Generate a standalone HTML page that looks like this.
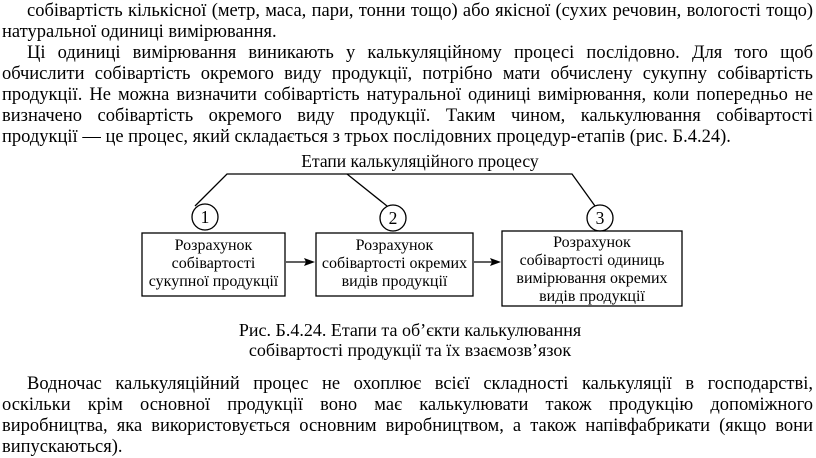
<!DOCTYPE html>
<html><head><meta charset="utf-8"><style>
body{margin:0;width:816px;height:449px;background:#fff;position:relative;overflow:hidden;font-family:"Liberation Serif",serif;color:#000}
.l{position:absolute;left:2px;width:811px;font-size:18.5px;line-height:21px;white-space:nowrap;text-align:justify;text-align-last:justify}
.n{text-align-last:left}
.i{left:27px;width:786px}
.d{position:absolute;font-size:16px;line-height:18px;text-align:center}
.cap{position:absolute;left:150px;width:520px;text-align:center;font-size:18px;line-height:20px}
</style></head><body>
<div class="l i" style="top:1px">собівартість кількісної (метр, маса, пари, тонни тощо) або якісної (сухих речовин, вологості тощо)</div>
<div class="l n" style="top:22px">натуральної одиниці вимірювання.</div>
<div class="l i" style="top:43px">Ці одиниці вимірювання виникають у калькуляційному процесі послідовно. Для того щоб</div>
<div class="l" style="top:64px">обчислити собівартість окремого виду продукції, потрібно мати обчислену сукупну собівартість</div>
<div class="l" style="top:85px">продукції. Не можна визначити собівартість натуральної одиниці вимірювання, коли попередньо не</div>
<div class="l" style="top:106px">визначено собівартість окремого виду продукції. Таким чином, калькулювання собівартості</div>
<div class="l n" style="top:127px">продукції — це процес, який складається з трьох послідовних процедур-етапів (рис. Б.4.24).</div>

<svg style="position:absolute;left:0;top:0" width="816" height="449">
<g fill="none" stroke="#000" stroke-width="1.3">
<polyline points="195,206 227,174 572,174 595,206"/>
<line x1="347" y1="174" x2="387" y2="206"/>
<circle cx="205" cy="217" r="13"/>
<circle cx="393" cy="218" r="13"/>
<circle cx="600" cy="218" r="13"/>
<rect x="142" y="233" width="143" height="63"/>
<rect x="316" y="233" width="157" height="63"/>
<rect x="502" y="231" width="180" height="75"/>
<line x1="286" y1="262" x2="308" y2="262"/>
<line x1="474" y1="262" x2="494" y2="262"/>
</g>
<polygon points="315,262 304,258 306,262 304,266" fill="#000"/>
<polygon points="501,262 490,258 492,262 490,266" fill="#000"/>
<g font-family="Liberation Serif,serif" font-size="17.5" text-anchor="middle">
<text x="420" y="167">Етапи калькуляційного процесу</text>
<text x="205" y="223">1</text>
<text x="393" y="224">2</text>
<text x="600" y="224">3</text>
</g>
</svg>
<div class="d" style="left:140px;width:147px;top:237px">Розрахунок<br>собівартості<br>сукупної продукції</div>
<div class="d" style="left:314px;width:161px;top:237px">Розрахунок<br>собівартості окремих<br>видів продукції</div>
<div class="d" style="left:500px;width:184px;top:234px">Розрахунок<br>собівартості одиниць<br>вимірювання окремих<br>видів продукції</div>

<div class="cap" style="top:320px">Рис. Б.4.24. Етапи та об’єкти калькулювання</div>
<div class="cap" style="top:340px">собівартості продукції та їх взаємозв’язок</div>

<div class="l i" style="top:374px">Водночас калькуляційний процес не охоплює всієї складності калькуляції в господарстві,</div>
<div class="l" style="top:395px">оскільки крім основної продукції воно має калькулювати також продукцію допоміжного</div>
<div class="l" style="top:416px">виробництва, яка використовується основним виробництвом, а також напівфабрикати (якщо вони</div>
<div class="l n" style="top:437px">випускаються).</div>
</body></html>
